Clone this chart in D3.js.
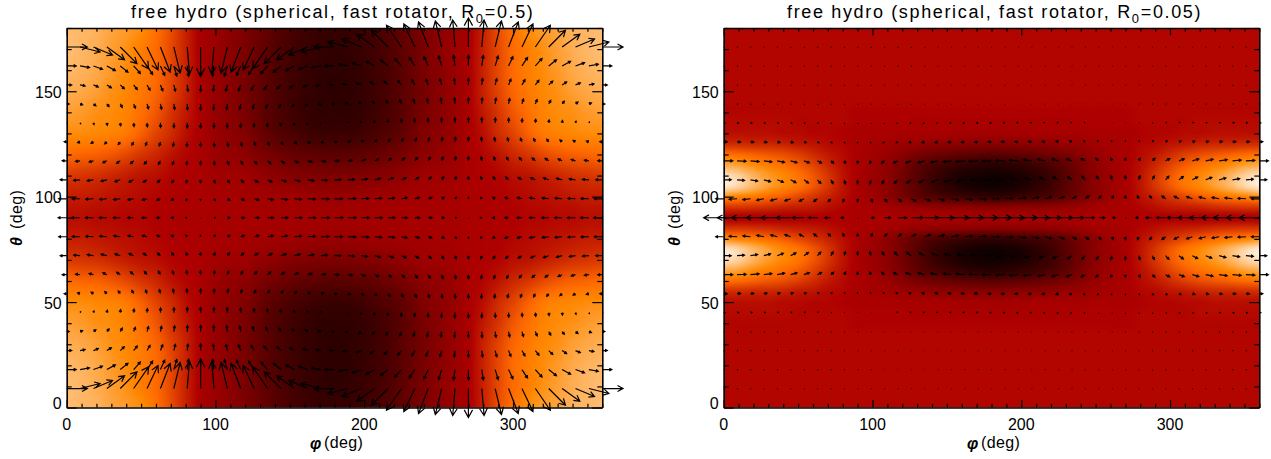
<!DOCTYPE html>
<html>
<head>
<meta charset="utf-8">
<script src="https://cdn.jsdelivr.net/npm/d3@7"></script>
<style>
body { margin: 0; background: #fff; }
text { font-family: "Liberation Sans", sans-serif; fill: #000; }
.axis path, .axis line { stroke: #000; shape-rendering: auto; }
</style>
</head>
<body>
<svg id="chart" width="1271" height="459"></svg>
<script>
// axis labels
const phiTicks = [0, 100, 200, 300];
const thetaTicks = [0, 50, 100, 150];
const phiMinor = d3.range(0, 361, 10);
const thetaMinor = d3.range(0, 181, 10);

// heat map samples (colour table position 0..1)
// one quadrant, the picture repeats it mirrored about theta=90 and phi=180
const heatPhi = d3.range(0, 181, 10);
const heatThetaLeft = [90, 100, 110, 120, 130, 140, 150, 160, 170, 180];
const heatLeft = [
  [.50,.50,.49,.49,.48,.48,.47,.47,.46,.46,.45,.45,.45,.45,.44,.44,.44,.44,.44],
  [.53,.53,.52,.51,.50,.49,.48,.47,.465,.46,.45,.45,.44,.44,.43,.43,.42,.41,.41],
  [.59,.58,.57,.55,.53,.51,.50,.48,.47,.46,.44,.43,.43,.40,.38,.36,.35,.34,.34],
  [.69,.68,.67,.65,.62,.58,.55,.51,.48,.46,.42,.40,.38,.34,.31,.28,.26,.25,.24],
  [.76,.76,.75,.74,.72,.67,.61,.56,.50,.46,.41,.38,.35,.29,.24,.21,.18,.16,.16],
  [.80,.79,.77,.76,.74,.70,.65,.58,.52,.46,.41,.37,.33,.27,.22,.18,.15,.13,.13],
  [.83,.82,.80,.77,.75,.72,.68,.61,.54,.46,.41,.37,.32,.27,.22,.18,.15,.13,.12],
  [.85,.84,.82,.79,.76,.73,.69,.62,.54,.46,.41,.37,.33,.27,.22,.18,.15,.13,.125],
  [.86,.85,.83,.80,.77,.73,.69,.62,.54,.46,.42,.38,.33,.28,.23,.19,.16,.14,.13],
  [.86,.85,.84,.81,.79,.76,.70,.63,.54,.46,.42,.38,.34,.29,.24,.20,.17,.15,.15]
];
const heatThetaRight = d3.range(90, 181, 5);
const heatRight = [
  [.47,.47,.47,.47,.47,.47,.47,.47,.47,.46,.46,.46,.45,.45,.45,.44,.44,.44,.44],
  [.58,.58,.57,.56,.54,.53,.52,.50,.48,.46,.45,.44,.42,.40,.39,.38,.38,.37,.37],
  [.76,.74,.72,.69,.66,.62,.58,.54,.50,.46,.43,.38,.33,.27,.22,.19,.17,.15,.14],
  [.95,.91,.85,.80,.75,.71,.65,.58,.51,.46,.42,.38,.31,.24,.17,.12,.08,.06,.05],
  [.93,.90,.84,.79,.75,.71,.65,.58,.51,.46,.42,.38,.31,.24,.17,.12,.08,.06,.05],
  [.82,.80,.76,.73,.70,.66,.61,.55,.50,.46,.43,.39,.33,.26,.21,.17,.14,.12,.11],
  [.70,.69,.67,.65,.63,.60,.56,.52,.49,.46,.44,.41,.37,.33,.30,.28,.26,.25,.24],
  [.56,.56,.55,.55,.54,.52,.51,.49,.48,.46,.45,.44,.42,.41,.39,.38,.38,.37,.37],
  [.50,.50,.50,.50,.49,.49,.48,.48,.47,.46,.46,.46,.45,.45,.45,.45,.44,.44,.44],
  [.49,.49,.49,.49,.49,.48,.48,.48,.48,.47,.47,.47,.47,.46,.46,.46,.46,.46,.46],
  [.48,.48,.48,.48,.48,.48,.48,.48,.48,.47,.47,.47,.47,.47,.47,.47,.47,.47,.47],
  [.48,.48,.48,.48,.48,.48,.48,.48,.48,.48,.48,.48,.48,.48,.48,.48,.48,.48,.48],
  [.48,.48,.48,.48,.48,.48,.48,.48,.48,.48,.48,.48,.48,.48,.48,.48,.48,.48,.48],
  [.48,.48,.48,.48,.48,.48,.48,.48,.48,.48,.48,.48,.48,.48,.48,.48,.48,.48,.48],
  [.48,.48,.48,.48,.48,.48,.48,.48,.48,.48,.48,.48,.48,.48,.48,.48,.48,.48,.48],
  [.48,.48,.48,.48,.48,.48,.48,.48,.48,.48,.48,.48,.48,.48,.48,.48,.48,.48,.48],
  [.48,.48,.48,.48,.48,.48,.48,.48,.48,.48,.48,.48,.48,.48,.48,.48,.48,.48,.48],
  [.48,.48,.48,.48,.48,.48,.48,.48,.48,.48,.48,.48,.48,.48,.48,.48,.48,.48,.48],
  [.48,.48,.48,.48,.48,.48,.48,.48,.48,.48,.48,.48,.48,.48,.48,.48,.48,.48,.48]
];

// velocity arrows, rows theta=90..171 step 9, columns phi=0..90 step 9
const arrowPhi = d3.range(0, 361, 9);
const arrowTheta = d3.range(9, 172, 9);
const uLeft = [
  [-8.5,-8.4,-8.1,-7.6,-6.9,-6,-5,-3.8,-2.6,-1.4,0],
  [-8,-7.9,-7.6,-7.1,-6.5,-5.7,-4.7,-3.6,-2.5,-1.3,0],
  [-6.5,-6.4,-6.2,-5.8,-5.3,-4.6,-3.8,-2.9,-2,-1,0],
  [-4.5,-4.5,-4.3,-4,-3.6,-3.2,-2.7,-2,-1.4,-.7,0],
  [-2.5,-2.5,-2.4,-2.2,-2,-1.8,-1.5,-1.1,-.8,-.4,0],
  [.5,.5,.5,.4,.4,.4,.3,.2,.2,.1,0],
  [2.5,2.5,2.4,2.2,2,1.8,1.5,1.1,.8,.4,0],
  [5,5,4.8,4.5,4,3.6,3,2.3,1.6,.8,0],
  [9.5,9.4,9,8.5,7.7,6.7,5.6,4.3,3,1.5,0],
  [20.7,20,19,17.7,16.7,15,11,9.7,6.3,2.3,0]
];
const vLeft = [
  [0,0,0,0,0,0,0,0,0,0,0],
  [0,-.2,-.5,-.7,-.9,-1.1,-1.2,-1.3,-1.4,-1.5,-1.5],
  [0,-.5,-.9,-1.4,-1.8,-2.1,-2.4,-2.7,-2.9,-3,-3],
  [0,-.6,-1.2,-1.8,-2.4,-2.8,-3.2,-3.6,-3.8,-4,-4],
  [0,-.7,-1.4,-2,-2.7,-3.2,-3.6,-4,-4.3,-4.5,-4.5],
  [0,-.8,-1.6,-2.3,-3,-3.6,-4,-4.5,-4.8,-5,-5],
  [0,-1,-1.9,-2.7,-3.5,-4.3,-4.9,-5.3,-5.7,-5.9,-6],
  [0,-1,-2,-2.9,-3.8,-4.6,-5.3,-5.8,-6.2,-6.4,-6.5],
  [0,-1.7,-3.3,-4.7,-6.2,-7.5,-8.5,-9.3,-10,-10.4,-10.5],
  [0,-5,-8,-12.7,-16.7,-21.7,-23,-25,-26,-27,-29]
];
const uRight = [
  [-20,-19.8,-19,-17.8,-16.2,-14.2,-11.8,-9,-6.2,-3.2,0],
  [-8,-7.9,-7.6,-7.1,-6.5,-5.7,-4.7,-3.6,-2.5,-1.3,0],
  [7.5,7.4,7.1,6.7,6.1,5.3,4.4,3.4,2.3,1.2,0],
  [9,8.9,8.6,8,7.3,6.4,5.3,4.1,2.8,1.4,0],
  [3.5,3.5,3.3,3.1,2.8,2.5,2.1,1.6,1.1,.6,0],
  [1.5,1.5,1.4,1.3,1.2,1.1,.9,.7,.5,.2,0],
  [.5,.5,.5,.4,.4,.4,.3,.2,.2,.1,0],
  [.3,.3,.3,.3,.2,.2,.2,.1,.1,0,0],
  [.2,.2,.2,.2,.2,.1,.1,.1,.1,0,0],
  [.1,.1,.1,.1,.1,.1,.1,0,0,0,0]
];
const vRight = [
  [0,0,0,0,0,0,0,0,0,0,0],
  [0,-.5,-.9,-1.4,-1.8,-2.1,-2.4,-2.7,-2.9,-3,-3],
  [0,-.6,-1.2,-1.8,-2.4,-2.8,-3.2,-3.6,-3.8,-4,-4],
  [0,-.4,-.8,-1.1,-1.5,-1.8,-2,-2.2,-2.4,-2.5,-2.5],
  [0,-.2,-.3,-.5,-.6,-.7,-.8,-.9,-1,-1,-1],
  [0,-.1,-.2,-.2,-.3,-.4,-.4,-.4,-.5,-.5,-.5],
  [0,0,-.1,-.1,-.1,-.1,-.2,-.2,-.2,-.2,-.2],
  [0,0,0,0,-.1,-.1,-.1,-.1,-.1,-.1,-.1],
  [0,0,0,0,0,-.1,-.1,-.1,-.1,-.1,-.1],
  [0,0,0,0,0,-.1,-.1,-.1,-.1,-.1,-.1]
];

const panels = [
  {left: 66.7, title: ["free hydro (spherical, fast rotator, R", "0", "=0.5)"], titleX: 131,
   thetaX: 17, phiX: 310, heat: heatLeft, heatTheta: heatThetaLeft, u: uLeft, v: vLeft},
  {left: 723.7, title: ["free hydro (spherical, fast rotator, R", "0", "=0.05)"], titleX: 787,
   thetaX: 675, phiX: 967, heat: heatRight, heatTheta: heatThetaRight, u: uRight, v: vRight}
];

// IDL red temperature colour table
const colour = d3.scaleLinear()
  .domain([0, .47, .69, .75, 1])
  .range(["#000000", "#ae0000", "#ff6a00", "#ff8700", "#ffffff"])
  .clamp(true);

const frameWidth = 535.6, frameHeight = 379.5, frameTop = 28;
const arrowScale = d3.scaleLinear().domain([-30, 30]).range([-30, 30]);

function cubic(a, b, c, d, t) {
  return b + .5 * t * (c - a + t * (2 * a - 5 * b + 4 * c - d + t * (3 * (b - c) + d - a)));
}

// lookup in the quadrant table, folded over the symmetry lines
function heatValue(p, phi, theta) {
  if (phi > 180) phi = 360 - phi;
  if (theta < 90) theta = 180 - theta;
  const rowStep = p.heatTheta[1] - p.heatTheta[0];
  const fx = phi / 10, fy = (theta - 90) / rowStep;
  const ix = Math.min(Math.floor(fx), heatPhi.length - 2);
  const iy = Math.min(Math.floor(fy), p.heatTheta.length - 2);
  const at = (r, c) => {
    if (c < 0) c = -c;
    if (c > heatPhi.length - 1) c = 2 * (heatPhi.length - 1) - c;
    if (r < 0) r = -r;
    if (r > p.heatTheta.length - 1) r = 2 * (p.heatTheta.length - 1) - r;
    return p.heat[r][c];
  };
  const rows = [-1, 0, 1, 2].map(k =>
    cubic(at(iy + k, ix - 1), at(iy + k, ix), at(iy + k, ix + 1), at(iy + k, ix + 2), fx - ix));
  return cubic(rows[0], rows[1], rows[2], rows[3], fy - iy);
}

function arrowPath(x0, y0, dx, dy) {
  const len = Math.hypot(dx, dy);
  const tipX = x0 + dx, tipY = y0 + dy;
  if (len < .8) return "M" + x0 + "," + y0 + "L" + (tipX + .5) + "," + (tipY + .5);
  const a = Math.atan2(dy, dx), h = Math.max(len * .3, Math.min(2.6, len)), w = .5;
  const ax = tipX - h * Math.cos(a - w), ay = tipY - h * Math.sin(a - w);
  const bx = tipX - h * Math.cos(a + w), by = tipY - h * Math.sin(a + w);
  return "M" + x0 + "," + y0 + "L" + tipX + "," + tipY +
    "M" + ax + "," + ay + "L" + tipX + "," + tipY + "L" + bx + "," + by;
}

const svg = d3.select("#chart");

panels.forEach(function(p) {
  const x = d3.scaleLinear().domain([0, 360]).range([p.left, p.left + frameWidth]);
  const y = d3.scaleLinear().domain([0, 180]).range([frameTop + frameHeight, frameTop]);
  const g = svg.append("g");

  // heat map, value per pixel then colour table
  const w = Math.round(frameWidth), h = Math.round(frameHeight);
  const canvas = document.createElement("canvas");
  canvas.width = w; canvas.height = h;
  const ctx = canvas.getContext("2d");
  const img = ctx.createImageData(w, h);
  for (let j = 0; j < h; j++) {
    for (let i = 0; i < w; i++) {
      const phi = x.invert(p.left + (i + .5) * frameWidth / w);
      const theta = y.invert(frameTop + (j + .5) * frameHeight / h);
      const c = d3.rgb(colour(heatValue(p, phi, theta)));
      const k = 4 * (j * w + i);
      img.data[k] = c.r; img.data[k + 1] = c.g; img.data[k + 2] = c.b; img.data[k + 3] = 255;
    }
  }
  ctx.putImageData(img, 0, 0);
  g.append("image")
    .attr("x", x(0)).attr("y", y(180))
    .attr("width", frameWidth).attr("height", frameHeight)
    .attr("preserveAspectRatio", "none")
    .attr("href", canvas.toDataURL());

  // frame and ticks, on all four sides
  const isMajorX = d => phiTicks.includes(d), isMajorY = d => thetaTicks.includes(d);
  const axes = [
    {ax: d3.axisBottom(x), pos: [0, y(0)], vals: phiMinor, major: isMajorX, dir: -1, vert: true, len: 7.5},
    {ax: d3.axisTop(x), pos: [0, y(180)], vals: phiMinor, major: isMajorX, dir: 1, vert: true, len: 7.5},
    {ax: d3.axisLeft(y), pos: [x(0), 0], vals: thetaMinor, major: isMajorY, dir: 1, vert: false, len: 10},
    {ax: d3.axisRight(y), pos: [x(360), 0], vals: thetaMinor, major: isMajorY, dir: -1, vert: false, len: 10}
  ];
  axes.forEach(function(a) {
    const ag = g.append("g").attr("class", "axis")
      .attr("transform", "translate(" + a.pos + ")")
      .call(a.ax.tickValues(a.vals).tickSizeOuter(0).tickFormat(""));
    ag.select(".domain").attr("stroke-width", 1.6);
    ag.selectAll(".tick line")
      .attr("stroke-width", 1.2)
      .attr(a.vert ? "y2" : "x2", d => a.dir * (a.major(d) ? a.len : a.len / 2));
  });

  // tick labels
  g.selectAll(".phi-label").data(phiTicks).enter().append("text")
    .attr("x", d => x(d)).attr("y", 430).attr("text-anchor", "middle")
    .style("font-size", "16px").text(d => d);
  g.selectAll(".theta-label").data(thetaTicks).enter().append("text")
    .attr("x", x(0) - 5).attr("y", d => y(d) + (d === 0 ? 1 : 6.5)).attr("text-anchor", "end")
    .style("font-size", "16px").text(d => d);

  // arrows: tail on the grid point
  const cells = [];
  arrowTheta.forEach(function(theta) {
    arrowPhi.forEach(function(phi) {
      let i = (phi > 180 ? 360 - phi : phi) / 9;
      const j = Math.abs(theta - 90) / 9;
      let su = 1, sv = 1;
      if (i > 10) { i = 20 - i; su = -1; }
      if (phi > 180) sv = -sv;
      if (theta < 90) sv = -sv;
      cells.push({phi: phi, theta: theta, u: su * p.u[j][i], v: sv * p.v[j][i]});
    });
  });
  g.selectAll(".arrow").data(cells).enter().append("path")
    .attr("class", "arrow")
    .attr("fill", "none").attr("stroke", "#000").attr("stroke-width", 1.2)
    .attr("d", d => arrowPath(x(d.phi), y(d.theta), arrowScale(d.u), -arrowScale(d.v)));

  // title with subscript
  const t = g.append("text").attr("x", p.titleX).attr("y", 18)
    .style("font-size", "18px").style("letter-spacing", "1.65px");
  t.append("tspan").text(p.title[0]);
  t.append("tspan").attr("dy", 5).style("font-size", "13px").text(p.title[1]);
  t.append("tspan").attr("dy", -5).text(p.title[2]);

  // axis titles
  g.append("text").attr("x", p.phiX).attr("y", 449)
    .style("font-size", "16px").style("font-weight", "bold").style("font-style", "italic").text("\u03c6");
  g.append("text").attr("x", p.phiX + 14).attr("y", 448)
    .style("font-size", "16px").style("letter-spacing", ".4px").text("(deg)");
  const yt = g.append("text").attr("transform", "translate(" + (p.thetaX + 5) + ",246) rotate(-90)")
    .style("font-size", "16px");
  yt.append("tspan").style("font-weight", "bold").style("font-style", "italic").text("\u03b8");
  yt.append("tspan").attr("dx", 8).style("letter-spacing", ".4px").text("(deg)");
});
</script>
</body>
</html>
